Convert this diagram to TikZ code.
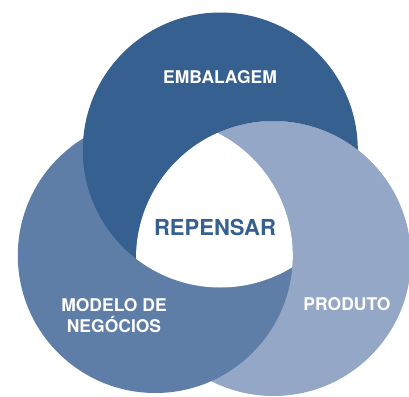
\documentclass[tikz,border=0pt]{standalone}
\usepackage{fontspec}
\setmainfont{TeX Gyre Heros}
\usepackage{xcolor}
\usepackage{tikz}
\definecolor{embalagem}{RGB}{53,96,143}
\definecolor{modelo}{RGB}{94,125,167}
\definecolor{produto}{RGB}{148,167,199}

\begin{document}
\begin{tikzpicture}[x=1pt,y=-1pt,
    rotulo/.style={text=white,anchor=base,align=center,
      font=\bfseries\fontsize{17.5}{21}\selectfont},
    centro/.style={text=embalagem,anchor=base,
      font=\bfseries\fontsize{22}{26}\selectfont}]
    \useasboundingbox (0,0) rectangle (409,396);
    \def\raio{137.5pt}
    \coordinate (e) at (220.3,150);
    \coordinate (m) at (155.3,255.5);
    \coordinate (p) at (273.5,258.5);

    \fill[produto] (p) circle (\raio);
    \fill[modelo] (m) circle (\raio);
    \begin{scope}[even odd rule]
      \clip (-10,-10) rectangle (420,410) (p) circle (\raio);
      \fill[embalagem] (e) circle (\raio);
    \end{scope}
    \begin{scope}
      \clip (p) circle (\raio);
      \clip (m) circle (\raio);
      \fill[white] (e) circle (\raio);
    \end{scope}

    \node[rotulo] (embalagem) at (220,83) {EMBALAGEM};
    \node[rotulo] (modelo) at (114,332) {MODELO DE\\NEGÓCIOS};
    \node[rotulo] (produto) at (347,310) {PRODUTO};
    \node[centro] (repensar) at (215,235) {REPENSAR};
  \end{tikzpicture}
\end{document}
